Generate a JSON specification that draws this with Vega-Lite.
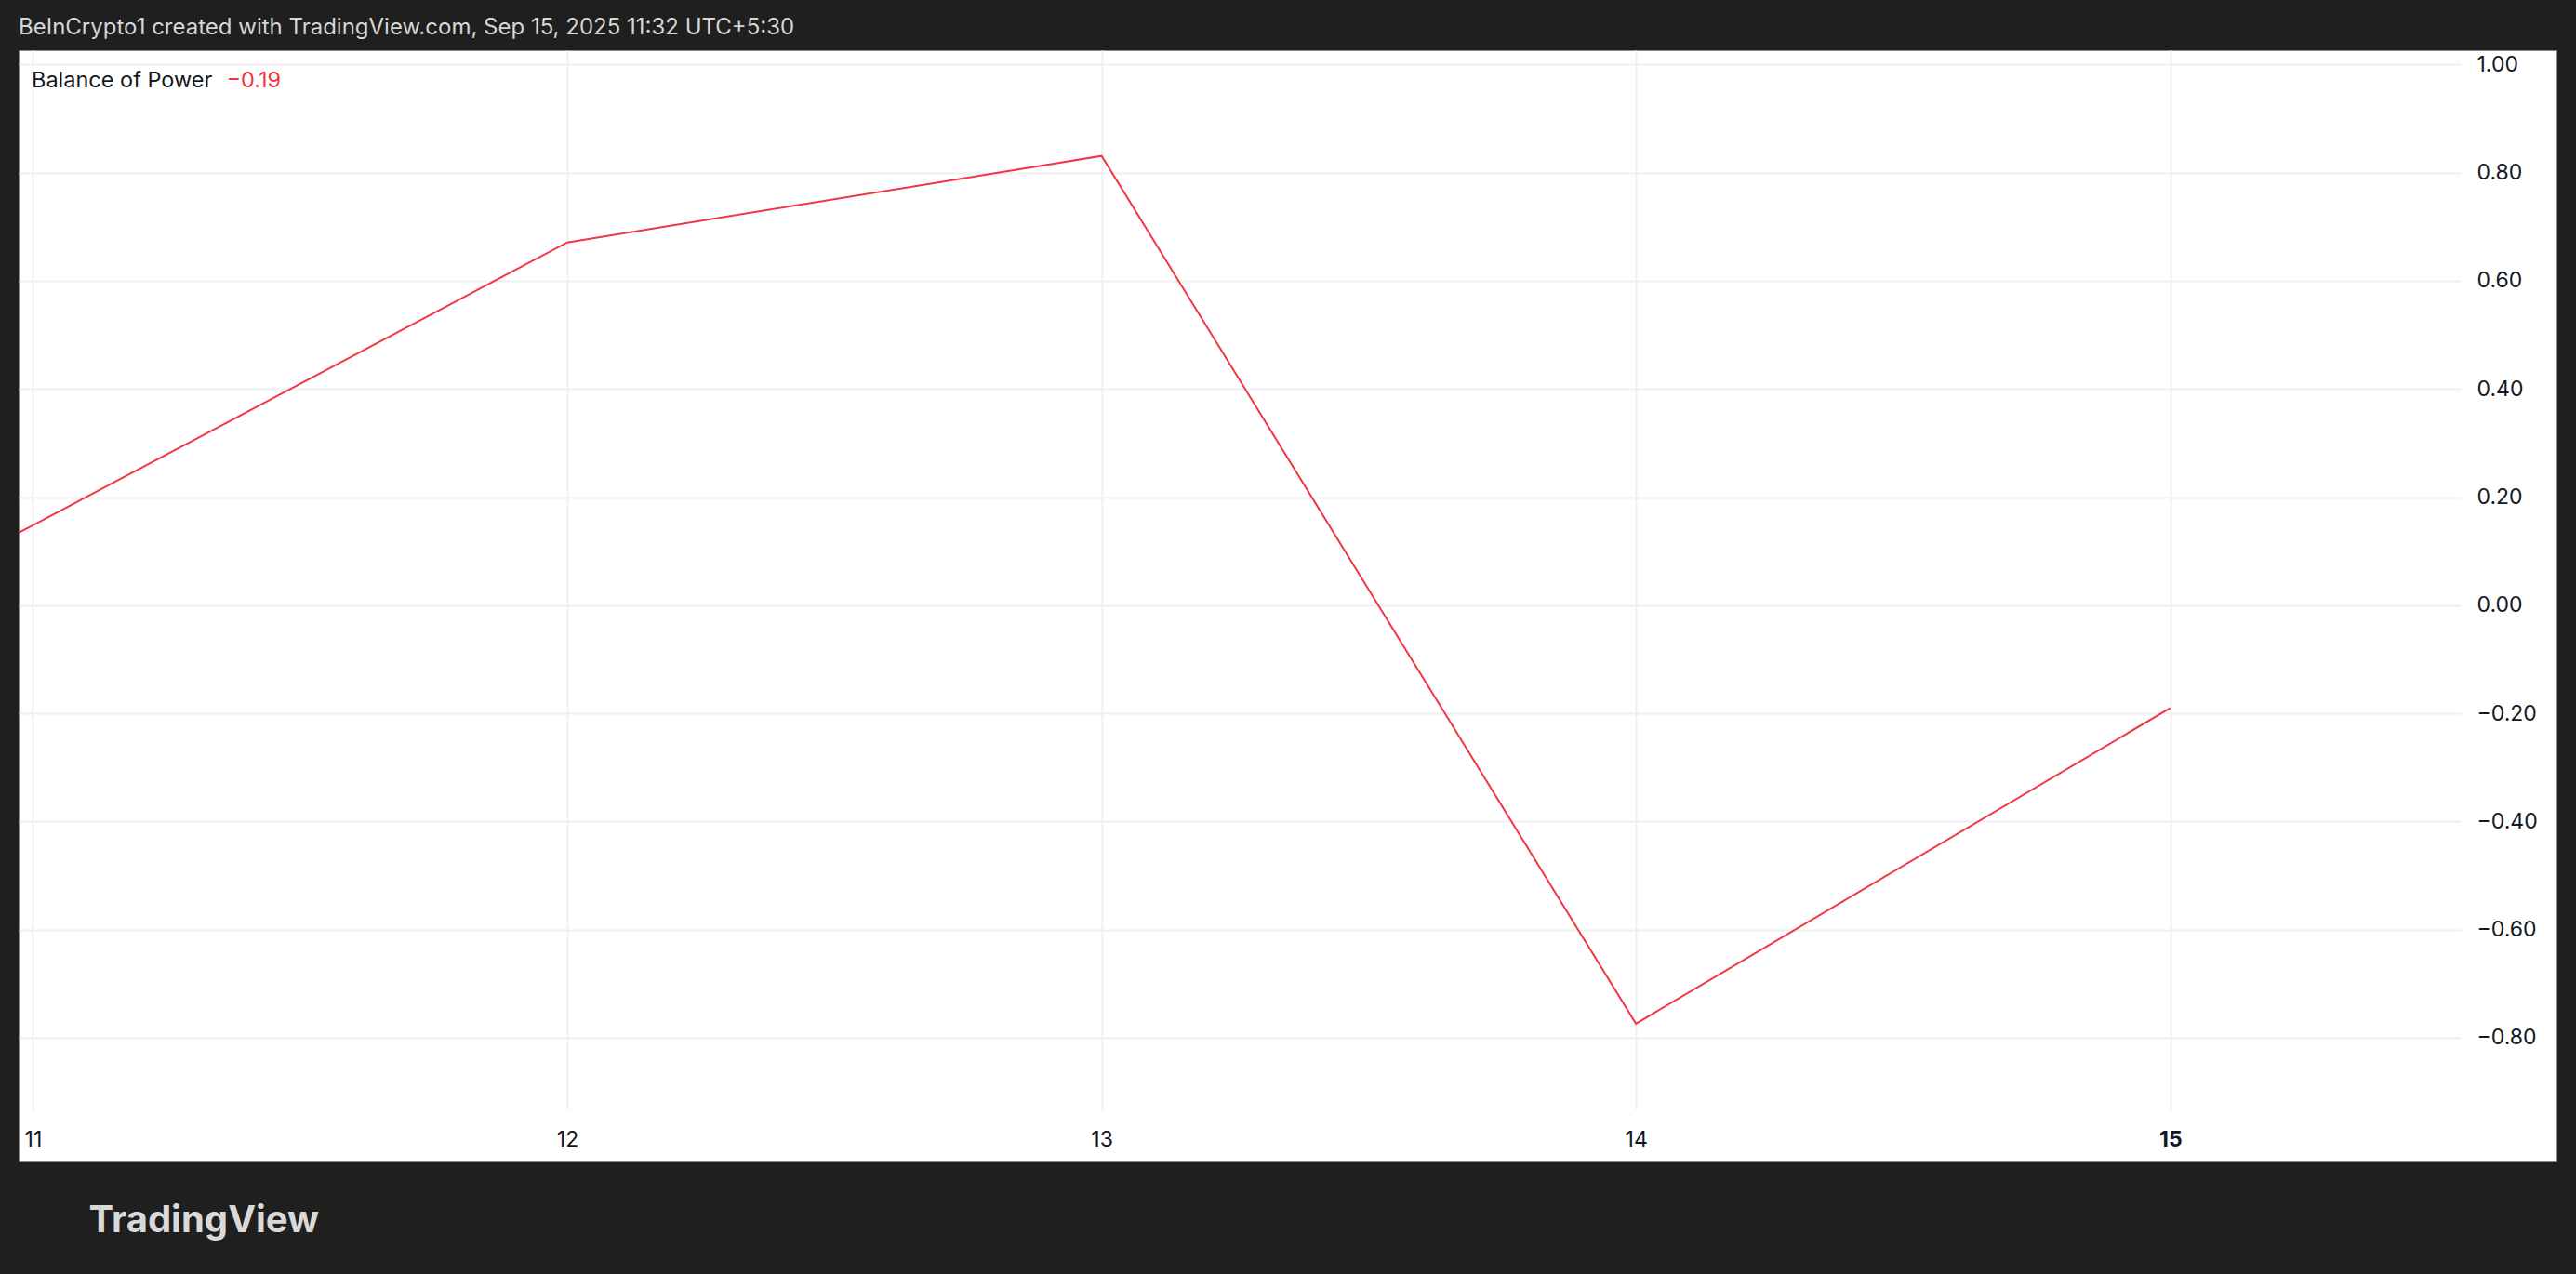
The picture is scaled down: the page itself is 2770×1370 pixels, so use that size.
{
  "$schema": "https://vega.github.io/schema/vega-lite/v6.json",
  "width": 2729,
  "height": 1195,
  "autosize": {"type": "none"},
  "padding": {"left": 20, "top": 54, "right": 21, "bottom": 121},
  "background": "#1f1f1f",
  "title": {
    "text": "BeInCrypto1 created with TradingView.com, Sep 15, 2025 11:32 UTC+5:30",
    "anchor": "start",
    "frame": "group",
    "offset": 12,
    "font": "Inter",
    "fontSize": 24,
    "fontWeight": "normal",
    "color": "#d6d6d6"
  },
  "data": {
    "values": [
      {"day": 10, "bop": -0.37, "indicator": "Balance of Power"},
      {"day": 11, "bop": 0.148, "indicator": "Balance of Power"},
      {"day": 12, "bop": 0.671, "indicator": "Balance of Power"},
      {"day": 13, "bop": 0.831, "indicator": "Balance of Power"},
      {"day": 14, "bop": -0.774, "indicator": "Balance of Power"},
      {"day": 15, "bop": -0.19, "indicator": "Balance of Power"}
    ]
  },
  "mark": {"type": "line", "clip": true, "strokeWidth": 2},
  "encoding": {
    "x": {
      "field": "day",
      "type": "quantitative",
      "scale": {"domain": [10.9732, 15.7226], "nice": false, "zero": false},
      "axis": {
        "orient": "bottom",
        "offset": -56,
        "values": [11, 12, 13, 14, 15],
        "format": "d",
        "grid": true,
        "gridColor": "#eff0f2",
        "gridWidth": 2,
        "domain": false,
        "ticks": false,
        "tickSize": 0,
        "labelPadding": 21,
        "labelBaseline": "top",
        "labelFont": "Inter",
        "labelFontSize": 23,
        "labelColor": "#131722",
        "labelFontWeight": {"condition": {"test": "datum.value === 15", "value": "bold"}, "value": "normal"},
        "labelFlush": false,
        "labelOverlap": false,
        "title": "TradingView",
        "titleAnchor": "start",
        "titleAlign": "left",
        "titleX": 75,
        "titleBaseline": "top",
        "titleFont": "Inter",
        "titleFontSize": 40,
        "titleFontWeight": "bold",
        "titleColor": "#d9d9d9",
        "titlePadding": 55,
        "titleLimit": 1000,
        "encoding": {"grid": {"y2": {"value": 0}}}
      }
    },
    "y": {
      "field": "bop",
      "type": "quantitative",
      "scale": {"domain": [-1.02886, 1.02652], "nice": false, "zero": false},
      "axis": {
        "orient": "right",
        "offset": -103,
        "values": [-0.8, -0.6, -0.4, -0.2, 0, 0.2, 0.4, 0.6, 0.8, 1.0],
        "format": ".2f",
        "grid": true,
        "gridColor": "#eff0f2",
        "gridWidth": 2,
        "domain": false,
        "ticks": false,
        "tickSize": 0,
        "labelPadding": 17,
        "labelAlign": "left",
        "labelBaseline": "middle",
        "labelFont": "Inter",
        "labelFontSize": 23,
        "labelColor": "#131722",
        "labelFlush": false,
        "labelOverlap": false,
        "title": null,
        "encoding": {"grid": {"x": {"value": 0}}}
      }
    },
    "color": {
      "field": "indicator",
      "type": "nominal",
      "scale": {"range": ["#f23645"]},
      "legend": {
        "orient": "none",
        "legendX": 14,
        "legendY": 21,
        "padding": 0,
        "title": "Balance of Power",
        "titleOrient": "left",
        "titleFont": "Inter",
        "titleFontSize": 23.5,
        "titleFontWeight": "normal",
        "titleColor": "#131722",
        "titleLimit": 1000,
        "titlePadding": 0,
        "labelExpr": "'−0.19'",
        "labelFont": "Inter",
        "labelFontSize": 23.5,
        "labelColor": "#f23645",
        "labelOffset": -9,
        "labelLimit": 500,
        "symbolSize": 0,
        "symbolOpacity": 0,
        "symbolStrokeWidth": 0
      }
    }
  },
  "config": {
    "view": {"fill": "#ffffff", "stroke": "#8a8a8a", "strokeWidth": 1}
  }
}
